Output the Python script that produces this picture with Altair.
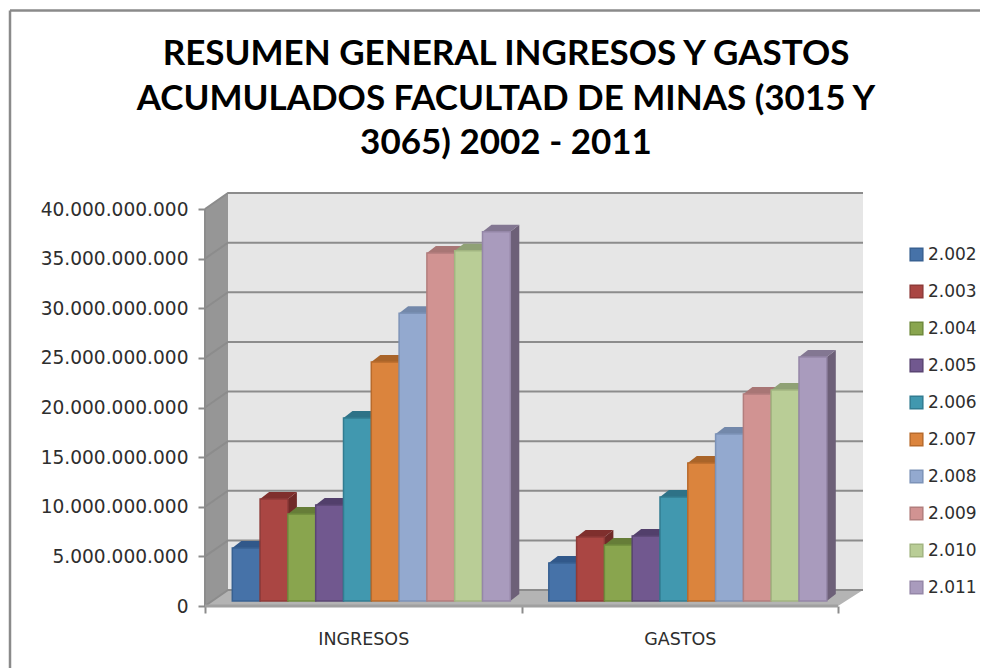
import altair as alt
import pandas as pd

CATEGORIES = ["INGRESOS", "GASTOS"]
YEARS = ["2.002", "2.003", "2.004", "2.005", "2.006", "2.007", "2.008", "2.009", "2.010", "2.011"]
INGRESOS = [5.34e9, 10.28e9, 8.77e9, 9.67e9, 18.44e9, 24.08e9, 29.0e9, 35.06e9, 35.3e9, 37.2e9]
GASTOS = [3.83e9, 6.45e9, 5.64e9, 6.55e9, 10.48e9, 13.9e9, 16.83e9, 20.86e9, 21.26e9, 24.58e9]
FRONT = ["#4672A8", "#AA4643", "#89A54E", "#71588F", "#4198AF", "#DB843D", "#93A9CF", "#D19392", "#B9CD96", "#A99BBD"]
TOP = ["#31588A", "#7F2F2D", "#667D38", "#523F6B", "#2E7287", "#A96429", "#7388AA", "#A87675", "#8FA175", "#837792"]
SIDE = ["#2A4C76", "#702A28", "#586D30", "#46365C", "#286374", "#925623", "#637693", "#916564", "#7C8C65", "#6D6078"]
EDGE = ["#386192", "#8E3A38", "#6F8A3C", "#5A4573", "#327C91", "#B86B2C", "#7D93B8", "#B27E7D", "#A2B581", "#9587A8"]
TICKS = [5e9 * i for i in range(9)]

# Oblique projection of the 3-D plot, in pixels of the reference
PX_W, PX_H = 658, 413
GROUP_PX = 316.5
Y_PX = 397 / 40e9
X_MAX = PX_W / GROUP_PX
Y_MAX = PX_H / Y_PX
DX, DY = 23 / GROUP_PX, 16 / Y_PX          # depth of the box
BX, BY = 9 / GROUP_PX, 7 / Y_PX            # depth of one bar
BASE = 5 / Y_PX                            # bars stand inside the floor
START, BAR_W = 27.3 / GROUP_PX, 27.8 / GROUP_PX

x_s = alt.Scale(domain=[0, X_MAX], nice=False, zero=False)
y_s = alt.Scale(domain=[0, Y_MAX], nice=False, zero=False)
x_axis = alt.Axis(
    values=[0, 0.5, 1, 1.5, 2], domain=False, grid=False, tickColor="#8c8c8c", tickWidth=2, tickSize=7,
    tickOpacity={"condition": {"test": "datum.value % 1 == 0", "value": 1}, "value": 0},
    labelExpr="datum.value == 0.5 ? 'INGRESOS' : datum.value == 1.5 ? 'GASTOS' : ''",
    labelFont="DejaVu Sans", labelFontSize=17.5, labelColor="#2e2e2e", labelPadding=17, labelOverlap=False, labelFlush=False)
y_axis = alt.Axis(
    values=TICKS, labelExpr="replace(format(datum.value, ','), /,/g, '.')",
    domain=False, grid=False, tickColor="#8c8c8c", tickWidth=2, tickSize=7,
    labelFont="DejaVu Sans", labelFontSize=18.6, labelColor="#2e2e2e", labelPadding=10)
X = lambda f="x": alt.X(f + ":Q", scale=x_s, axis=x_axis, title=None)
Y = lambda f="y": alt.Y(f + ":Q", scale=y_s, axis=y_axis, title=None)
Y2 = lambda f="y2": alt.Y2(f + ":Q")

fronts, tops, sides = [], [], []
for g, (cat, vals) in enumerate(zip(CATEGORIES, [INGRESOS, GASTOS])):
    for i, v in enumerate(vals):
        x0 = g + START + i * BAR_W
        x1 = x0 + BAR_W
        t = v + BASE
        bid = f"{cat}{i}"
        fronts.append(dict(serie=YEARS[i], x=x0, x2=x1, y=BASE, y2=t))
        for px, lo, hi in [(x0, t, t), (x0 + BX, t, t + BY), (x1, t, t + BY), (x1 + BX, t + BY, t + BY)]:
            tops.append(dict(id=bid, c=TOP[i], x=px, y=lo, y2=hi))
        for px, lo, hi in [(x1, BASE, t), (x1 + BX, BASE + BY, t + BY)]:
            sides.append(dict(id=bid, c=SIDE[i], x=px, y=lo, y2=hi))

grid = []
for v in TICKS:
    for o, (px, py) in enumerate([(0, v), (DX, v + DY), (X_MAX, v + DY)]):
        grid.append(dict(v=v, o=o, x=px, y=py))

wall = alt.Chart(pd.DataFrame([dict(x=DX, x2=X_MAX, y=DY, y2=Y_MAX)])).mark_rect(color="#e6e6e6").encode(
    x=X(), x2=alt.X2("x2:Q"), y=Y(), y2=Y2())
left = alt.Chart(pd.DataFrame([dict(x=0, y=0, y2=40e9), dict(x=DX, y=DY, y2=40e9 + DY)])).mark_area(
    color="#969696", opacity=1, orient="vertical").encode(x=X(), y=Y(), y2=Y2())
floor = alt.Chart(pd.DataFrame([
    dict(x=0, y=0, y2=0), dict(x=DX, y=0, y2=DY),
    dict(x=2, y=0, y2=DY), dict(x=X_MAX, y=DY, y2=DY)])).mark_area(
    color="#b4b4b4", opacity=1, orient="vertical").encode(x=X(), y=Y(), y2=Y2())
grid_l = alt.Chart(pd.DataFrame(grid)).mark_line(color="#8c8c8c", strokeWidth=2).encode(
    x=X(), y=Y(), detail="v:N", order="o:Q")
front_edge = alt.Chart(pd.DataFrame([dict(x=0, x2=2, y=0)])).mark_rule(color="#a0a0a0", strokeWidth=3).encode(
    x=X(), x2=alt.X2("x2:Q"), y=Y())
left_edge = alt.Chart(pd.DataFrame([dict(x=0, y=0, y2=40e9)])).mark_rule(color="#8c8c8c", strokeWidth=2).encode(
    x=X(), y=Y(), y2=Y2())

side_l = alt.Chart(pd.DataFrame(sides)).mark_area(opacity=1, orient="vertical").encode(
    x=X(), y=Y(), y2=Y2(), color=alt.Color("c:N", scale=None), detail="id:N")
top_l = alt.Chart(pd.DataFrame(tops)).mark_area(opacity=1, orient="vertical").encode(
    x=X(), y=Y(), y2=Y2(), color=alt.Color("c:N", scale=None), detail="id:N")

leg = alt.Legend(title=None, orient="none", legendX=703, legendY=53, symbolType="square", symbolSize=160,
                 symbolStrokeWidth=1.5, symbolOpacity=1, labelFont="DejaVu Sans", labelFontSize=17, labelColor="#2e2e2e",
                 rowPadding=18, labelOffset=3, labelLimit=100)
front_l = alt.Chart(pd.DataFrame(fronts)).mark_rect(strokeWidth=1.5, opacity=1).encode(
    x=X(), x2=alt.X2("x2:Q"), y=Y(), y2=Y2(),
    fill=alt.Fill("serie:N", scale=alt.Scale(domain=YEARS, range=FRONT), legend=leg),
    stroke=alt.Stroke("serie:N", scale=alt.Scale(domain=YEARS, range=EDGE), legend=leg),
)

frame_top = alt.Chart(pd.DataFrame({"a": [0]})).mark_rule(color="#8a8a8a", strokeWidth=2.5).encode(
    x=alt.value(-195), x2=alt.value(775), y=alt.value(-182.5))
frame_left = alt.Chart(pd.DataFrame({"a": [0]})).mark_rule(color="#8a8a8a", strokeWidth=2.5).encode(
    x=alt.value(-195), y=alt.value(-182.5), y2=alt.value(483))

chart = alt.layer(frame_top, frame_left, wall, left, floor, grid_l, left_edge, front_edge, side_l, top_l, front_l).properties(
    width=PX_W, height=PX_H,
    padding={"left": 197, "top": 185, "right": 117, "bottom": 62},
    autosize=alt.AutoSizeParams(type="none"),
    title=alt.TitleParams(
        text=["RESUMEN GENERAL INGRESOS Y GASTOS", "ACUMULADOS FACULTAD DE MINAS (3015 Y", "3065) 2002 - 2011"],
        font="Lato", fontSize=35, fontWeight=700, color="#000000", lineHeight=44.5, baseline="alphabetic",
        anchor="middle", dx=-28, offset=-180),
).configure_view(stroke=None)

chart.save("out.html", embed_options={"renderer": "svg", "actions": False})
